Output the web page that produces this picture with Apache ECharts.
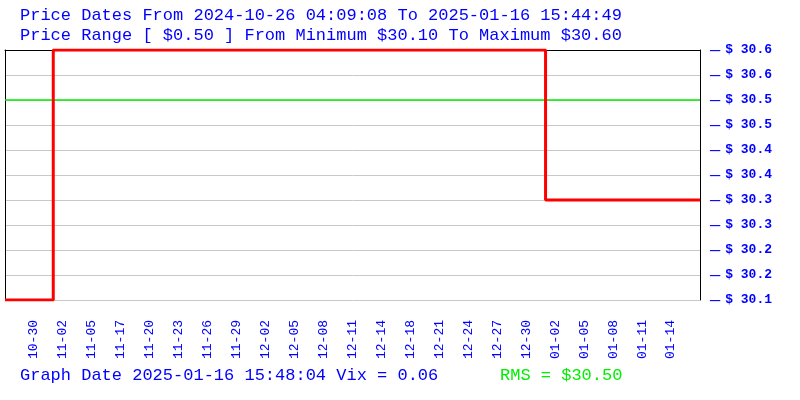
<!DOCTYPE html>
<html><head><meta charset="utf-8">
<script src="https://cdn.jsdelivr.net/npm/echarts@6/dist/echarts.min.js"></script>
<style>html,body{margin:0;padding:0;background:#fff}#c{width:800px;height:400px}</style>
</head><body><div id="c"></div>
<script>
const headerLine1 = 'Price Dates From 2024-10-26 04:09:08 To 2025-01-16 15:44:49';
const headerLine2 = 'Price Range [ $0.50 ] From Minimum $30.10 To Maximum $30.60';
const footerText = 'Graph Date 2025-01-16 15:48:04 Vix = 0.06';
const rmsText = 'RMS = $30.50';
const rmsValue = 30.50;

const categories = [
  '2024-10-26 04:09','2024-10-28','2024-10-29','2024-10-30','2024-10-31','2024-11-01',
  '2024-11-02','2024-11-03','2024-11-04','2024-11-05','2024-11-06','2024-11-16',
  '2024-11-17','2024-11-18','2024-11-19','2024-11-20','2024-11-21','2024-11-22',
  '2024-11-23','2024-11-24','2024-11-25','2024-11-26','2024-11-27','2024-11-28',
  '2024-11-29','2024-11-30','2024-12-01','2024-12-02','2024-12-03','2024-12-04',
  '2024-12-05','2024-12-06','2024-12-07','2024-12-08','2024-12-09','2024-12-10',
  '2024-12-11','2024-12-12','2024-12-13','2024-12-14','2024-12-15','2024-12-17',
  '2024-12-18','2024-12-19','2024-12-20','2024-12-21','2024-12-22','2024-12-23',
  '2024-12-24','2024-12-25','2024-12-26','2024-12-27','2024-12-28','2024-12-29',
  '2024-12-30','2024-12-31','2025-01-01','2025-01-02','2025-01-03','2025-01-04',
  '2025-01-05','2025-01-06','2025-01-07','2025-01-08','2025-01-09','2025-01-10',
  '2025-01-11','2025-01-12','2025-01-13','2025-01-14','2025-01-15','2025-01-16 08:00',
  '2025-01-16 15:44'
];
const prices = [
  30.10,30.10,30.10,30.10,30.10,30.60,
  30.60,30.60,30.60,30.60,30.60,30.60,
  30.60,30.60,30.60,30.60,30.60,30.60,
  30.60,30.60,30.60,30.60,30.60,30.60,
  30.60,30.60,30.60,30.60,30.60,30.60,
  30.60,30.60,30.60,30.60,30.60,30.60,
  30.60,30.60,30.60,30.60,30.60,30.60,
  30.60,30.60,30.60,30.60,30.60,30.60,
  30.60,30.60,30.60,30.60,30.60,30.60,
  30.60,30.60,30.30,30.30,30.30,30.30,
  30.30,30.30,30.30,30.30,30.30,30.30,
  30.30,30.30,30.30,30.30,30.30,30.30,
  30.30
];
const yMin = 30.10, yMax = 30.60, yStep = 0.05;
const yTickLabels = ['$ 30.1','$ 30.2','$ 30.2','$ 30.3','$ 30.3','$ 30.4','$ 30.4','$ 30.5','$ 30.5','$ 30.6','$ 30.6'];
const xLabelFirst = 3, xLabelLast = 69, xLabelEvery = 3;

const BLUE = '#0000ff', GREEN = '#00ee00', RED = '#ff0000';
const MONO = '"Liberation Mono", "DejaVu Sans Mono", monospace';

const chart = echarts.init(document.getElementById('c'), null, {renderer: 'canvas'});
chart.setOption({
  animation: false,
  backgroundColor: '#fff',
  title: [
    {text: headerLine1, left: 20, top: 5, padding: 0, textStyle: {fontFamily: MONO, fontSize: 17, fontWeight: 'normal', color: BLUE, lineHeight: 20}},
    {text: headerLine2, left: 20, top: 25, padding: 0, textStyle: {fontFamily: MONO, fontSize: 17, fontWeight: 'normal', color: BLUE, lineHeight: 20}},
    {text: footerText, left: 20, top: 365, padding: 0, textStyle: {fontFamily: MONO, fontSize: 17, fontWeight: 'normal', color: BLUE, lineHeight: 20}},
    {text: rmsText, left: 500, top: 365, padding: 0, textStyle: {fontFamily: MONO, fontSize: 17, fontWeight: 'normal', color: GREEN, lineHeight: 20}}
  ],
  grid: {left: 5, right: 100, top: 50, bottom: 100, containLabel: false},
  xAxis: [
    {
      type: 'category', data: categories, boundaryGap: false, position: 'bottom',
      axisLine: {show: false}, axisTick: {show: false}, splitLine: {show: false},
      axisLabel: {
        rotate: 90, margin: 20, color: BLUE, fontFamily: MONO, fontSize: 13,
        padding: [4, 0, 0, 0],
        interval: (i) => i >= xLabelFirst && i <= xLabelLast && (i - xLabelFirst) % xLabelEvery === 0,
        formatter: (v) => v.slice(5, 10)
      }
    },
    {
      type: 'category', data: categories, boundaryGap: false, position: 'top',
      axisLine: {show: true, lineStyle: {color: '#000', width: 1}}, axisTick: {show: false},
      axisLabel: {show: false}, splitLine: {show: false}
    }
  ],
  yAxis: [
    {
      type: 'value', position: 'right', min: yMin, max: yMax, interval: yStep,
      axisLine: {show: true, lineStyle: {color: '#000', width: 1}},
      axisTick: {show: false},
      splitLine: {show: true, lineStyle: {color: '#c8c8c8', width: 1}},
      axisLabel: {
        margin: 10,
        formatter: (v) => '{d|—}{v|' + yTickLabels[Math.round((v - yMin) / yStep)] + '}',
        rich: {
          d: {fontFamily: MONO, fontSize: 17, color: BLUE},
          v: {fontFamily: MONO, fontSize: 13, fontWeight: 'bold', color: BLUE, padding: [0, 0, 0, 5]}
        }
      }
    },
    {
      type: 'value', position: 'left', min: yMin, max: yMax, interval: yStep,
      axisLine: {show: true, lineStyle: {color: '#000', width: 1}},
      axisTick: {show: false}, axisLabel: {show: false}, splitLine: {show: false}
    }
  ],
  series: [
    {
      type: 'line', step: 'end', data: prices, xAxisIndex: 0, yAxisIndex: 0,
      symbol: 'none', lineStyle: {color: RED, width: 3}, z: 5,
      markLine: {
        silent: true, symbol: 'none', label: {show: false},
        lineStyle: {color: GREEN, width: 1.5, type: 'solid'},
        data: [{yAxis: rmsValue}]
      }
    }
  ]
});
</script>
</body></html>
